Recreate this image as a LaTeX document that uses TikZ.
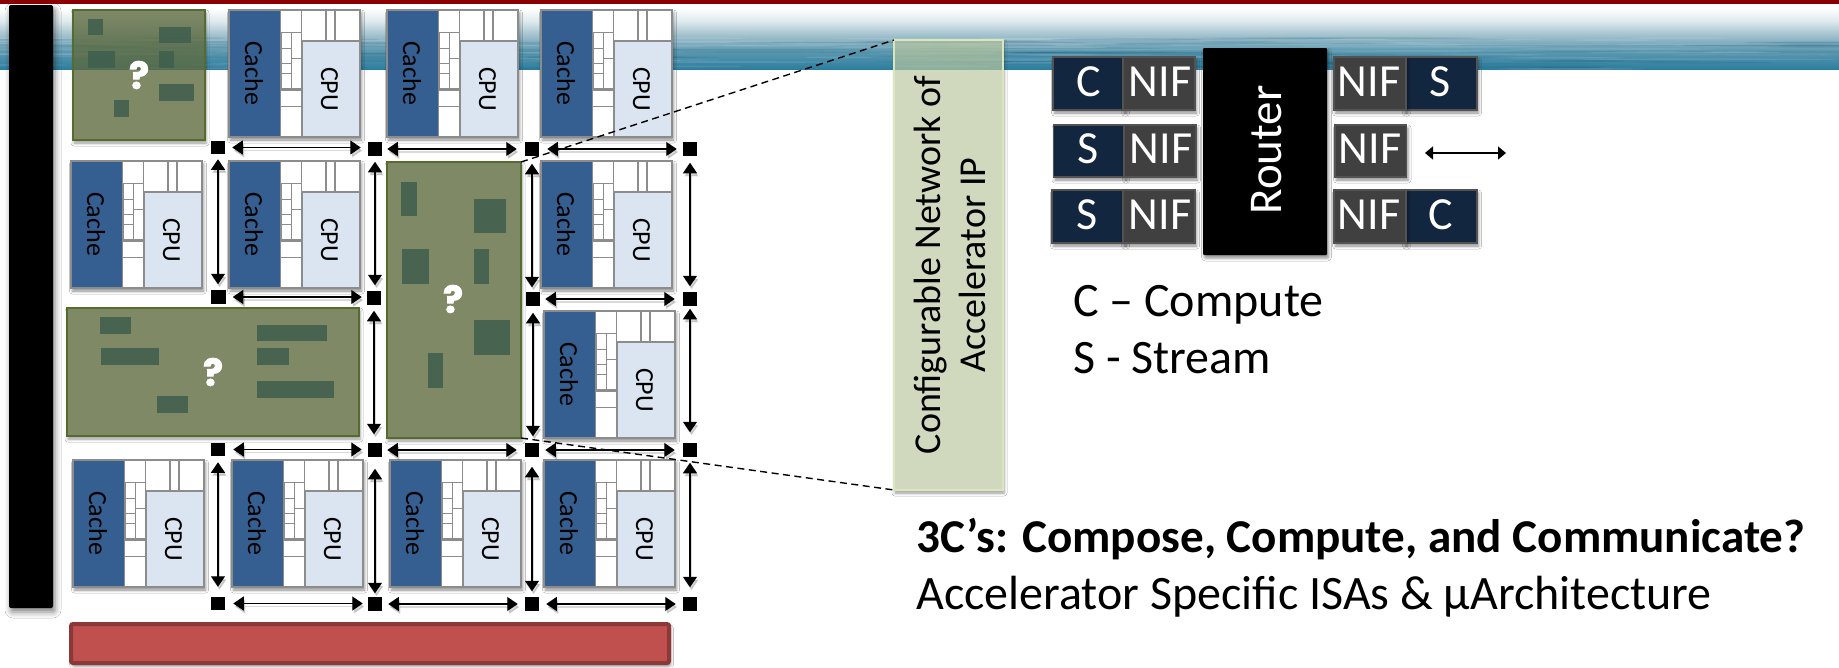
\documentclass[tikz,border=0pt]{standalone}
\usepackage{fontspec}
\setmainfont{Carlito}
\newfontfamily\qfont[BoldFeatures={FakeBold=2.5}]{Poppins}
\usetikzlibrary{arrows.meta,shadows.blur,calc}
\definecolor{hdrred}{HTML}{8B0000}
\definecolor{cacheblue}{HTML}{355E91}
\definecolor{cpublue}{HTML}{DBE5F1}
\definecolor{tilegray}{HTML}{8C8C8C}
\definecolor{accfill}{HTML}{5D6A3E}
\definecolor{accline}{HTML}{566B2E}
\definecolor{blockc}{HTML}{3F5E4E}
\definecolor{panelfill}{HTML}{BAC79E}
\definecolor{panelline}{HTML}{DCE6BE}
\definecolor{navy}{HTML}{12263F}
\definecolor{nifgray}{HTML}{404040}
\definecolor{barred}{HTML}{C0504D}
\definecolor{barline}{HTML}{8C3836}
\definecolor{oc6}{HTML}{116A90}
\definecolor{oc5}{HTML}{2E7FA0}
\definecolor{oc4}{HTML}{5F9AB1}
\definecolor{oc3}{HTML}{A3C2CE}
\definecolor{oc2}{HTML}{DCE8EC}
\pgfdeclareverticalshading{oceanb}{65bp}{
 color(0bp)=(oc6);
 color(8bp)=(oc5);
 color(22bp)=(oc4);
 color(34bp)=(oc3);
 color(44bp)=(oc2);
 color(54bp)=(white);
 color(65bp)=(white)}
\tikzset{
 softsh/.style={blur shadow={shadow xshift=1.5pt,shadow yshift=-3pt,shadow blur radius=3pt,shadow opacity=45}},
 softlight/.style={blur shadow={shadow xshift=1pt,shadow yshift=-3pt,shadow blur radius=3pt,shadow opacity=40}},
 boxn/.style={anchor=north west,inner sep=0pt,outer sep=0pt,rectangle},
 tileframe/.style={draw=tilegray,line width=1.8pt,fill=white,softsh},
 tcell/.style={draw=tilegray,line width=1.3pt,fill=white},
 cachefill/.style={draw=tilegray,line width=1.8pt,fill=cacheblue},
 cpufill/.style={draw=tilegray,line width=1.8pt,fill=cpublue},
 tiletext/.style={font=\fontsize{26}{26}\selectfont,text=black,rotate=-90,inner sep=0pt},
 accel/.style={draw=accline,line width=1.5pt,fill=accfill,fill opacity=.79,text opacity=1},
 darkb/.style={fill=blockc,fill opacity=.85},
 qmark/.style={font=\qfont\bfseries\fontsize{37}{37}\selectfont,text=white,inner sep=0pt},
 sq/.style={fill=black,rectangle,inner sep=0pt,outer sep=0pt,minimum width=14.5pt,minimum height=13.5pt},
 biarrow/.style={line width=1.3pt,black,{Triangle[length=10.5pt,width=14pt]}-{Triangle[length=10.5pt,width=14pt]}},
 biarrowsh/.style={line width=1.3pt,black,opacity=.15,{Triangle[length=10.5pt,width=14pt]}-{Triangle[length=10.5pt,width=14pt]},transform canvas={shift={(1.5pt,-3pt)}}},
 whitet/.style={font=\fontsize{46}{46}\selectfont,text=white,inner sep=0pt},
 navybox/.style={fill=navy,draw=nifgray!90,line width=1.3pt,softsh},
 nifbox/.style={fill=nifgray,draw=nifgray!90!white,line width=1.3pt,softsh},
 bigt/.style={font=\fontsize{48}{48}\selectfont,anchor=base west,inner sep=0pt,text=black},
 dashconn/.style={dashed,dash pattern=on 7pt off 4.5pt,line width=1.4pt,black},
}
% #1 style, #2 name, #3 x1, #4 y1, #5 x2, #6 y2
\newcommand\boxat[6]{\node[boxn,#1,minimum width={(#5-#3)*1pt},minimum height={(#6-#4)*1pt}] (#2) at (#3,#4) {};}
% a shadow that shows only outside the given rectangle, so that translucent fills stay clean
\newcommand\outshadow[4]{\begin{scope}
 \clip (0,0) -- (1839,0) -- (1839,667) -- (0,667) -- cycle (#1,#2) -- (#1,#4) -- (#3,#4) -- (#3,#2) -- cycle;
 \path[softlight] (#1,#2) rectangle (#3,#4);
 \end{scope}}
\newcommand\tile[3]{%
 \begin{scope}[shift={(#2,#3)}]
 \boxat{tileframe}{#1}{0}{0}{131}{127}
 \boxat{cachefill}{#1c}{0}{0}{51.5}{127}
 \boxat{cpufill}{#1p}{73}{31}{131}{127}
 \draw[tilegray,line width=1.5pt] (72.5,0) -- (72.5,31) (97,0) -- (97,31) (106,0) -- (106,31) (52,22.5) -- (72.5,22.5) (52,80) -- (73,80) (52,96.5) -- (73,96.5);
 \draw[tcell] (52.3,22.5) rectangle (62.3,38.4) (52.3,38.4) rectangle (62.3,53.8) (52.3,53.8) rectangle (62.3,63.4) (52.3,63.4) rectangle (62.3,79) (62.3,22.5) rectangle (72.3,48.5) (62.3,48.5) rectangle (72.3,79);
 \node[tiletext] at (25,63) {Cache};
 \node[tiletext] at (100.5,79) {CPU};
 \end{scope}}
\newcommand\dk[4]{\fill[darkb] (#1,#2) rectangle (#3,#4);}
\newcommand\harr[4]{%
 \draw[biarrowsh,shorten <=#3pt,shorten >=#4pt] (#1.east) -- (#1.east -| #2.west);
 \draw[biarrow,shorten <=#3pt,shorten >=#4pt] (#1.east) -- (#1.east -| #2.west);}
\newcommand\varr[4]{%
 \draw[biarrowsh,shorten <=#3pt,shorten >=#4pt] (#1.south) -- (#1.south |- #2.north);
 \draw[biarrow,shorten <=#3pt,shorten >=#4pt] (#1.south) -- (#1.south |- #2.north);}
\begin{document}
\begin{tikzpicture}[x=1pt,y=-1pt]
\useasboundingbox (0,0) rectangle (1839,667);
\fill[white] (0,0) rectangle (1839,667);
% header band
\begin{scope}
 \clip (0,4) rectangle (1839,69);
 \shade[shading=oceanb] (0,4) rectangle (1839,69);
 \pgfmathsetseed{11}
 \foreach \i in {1,...,170}{
  \pgfmathsetmacro\xa{rnd*1839}
  \pgfmathsetmacro\ya{38+rnd*31}
  \pgfmathsetmacro\wa{30+rnd*110}
  \pgfmathsetmacro\pick{rnd}
  \ifdim\pick pt<.4pt
   \fill[white,opacity=.10] (\xa,\ya) ellipse ({\wa*1pt} and 0.9pt);
  \else
   \fill[oc6!70!black,opacity=.12] (\xa,\ya) ellipse ({\wa*1pt} and 0.9pt);
  \fi
 }
\end{scope}
\fill[hdrred] (0,0) rectangle (1839,4);
% side and bottom bars
\node[boxn,fill=black,rounded corners=2pt,minimum width=44pt,minimum height=603pt,blur shadow={shadow xshift=2pt,shadow yshift=-4pt,shadow blur radius=6pt,shadow opacity=50}] (sidebar) at (9,5) {};
\boxat{fill=barred,draw=barline,line width=4pt,rounded corners=2pt,softsh}{redbar}{71}{624}{669}{663}
% accelerators
\outshadow{73}{10}{205}{140}
\boxat{accel}{accA}{73}{10}{205}{140}
\dk{88}{19}{103}{35}\dk{159}{27}{191}{43}\dk{88}{51}{115}{68}\dk{159}{51}{174}{68}\dk{159}{84}{194}{101}\dk{114}{100}{129}{117}
\node[qmark] (qA) at (139,75) {?};
\outshadow{387}{162}{521}{438}
\boxat{accel}{accB}{387}{162}{521}{438}
\dk{401}{182}{417}{216}\dk{474}{199}{506}{233}\dk{402}{249}{429}{284}\dk{474}{249}{489}{284}\dk{474}{320}{510}{355}\dk{428}{353}{443}{388}
\node[qmark] (qB) at (453,299) {?};
\outshadow{67}{308}{359}{436}
\boxat{accel}{accC}{67}{308}{359}{436}
\dk{100}{317}{131}{334}\dk{101}{348}{159}{365}\dk{257}{325}{327}{341}\dk{257}{348}{289}{365}\dk{257}{381}{334}{398}\dk{157}{396}{188}{413}
\node[qmark] (qC) at (213,372) {?};
% tiles
\tile{t01}{229}{10}\tile{t02}{387}{10}\tile{t03}{541}{10}
\tile{t10}{71}{161}\tile{t11}{229}{161}\tile{t13}{541}{161}
\tile{t23}{544}{311}
\tile{t30}{73}{460}\tile{t31}{232}{460}\tile{t32}{390}{460}\tile{t33}{544}{460}
% router squares
\foreach \n/\x/\y in {r00/218/147.5,r01/375/149,r02/532/149,r03/690/149,
 r10/218.5/297,r11/374/298,r12/533/299,r13/690/299,
 r20/218/449.5,r21/375/450,r22/532/450,r23/690/450,
 r30/218/603.5,r31/375/604,r32/532/604,r33/690/604}
 \node[sq] (\n) at (\x,\y) {};
% horizontal links
\harr{r00}{r01}{7}{7}\harr{r01}{r02}{5}{8}\harr{r02}{r03}{8}{6}
\harr{r10}{r11}{7}{5}\harr{r12}{r13}{5}{8}
\harr{r20}{r21}{8}{6}\harr{r21}{r22}{5}{8}\harr{r22}{r23}{6}{8}
\harr{r30}{r31}{8}{5}\harr{r31}{r32}{6}{7}\harr{r32}{r33}{7}{7}
% vertical links
\varr{r00}{r10}{5}{6}\varr{r01}{r11}{6}{6}\varr{r02}{r12}{8}{5}\varr{r03}{r13}{7}{6}
\varr{r11}{r21}{6}{9}\varr{r12}{r22}{7}{7}\varr{r13}{r23}{3}{11}
\varr{r20}{r30}{6}{10}\varr{r21}{r31}{12}{4}\varr{r22}{r32}{10}{6}\varr{r23}{r33}{6}{10}
% panel
\outshadow{894}{40}{1003}{490}
\node[boxn,draw=panelline,line width=1.5pt,fill=panelfill,fill opacity=.68,text opacity=1,minimum width=109pt,minimum height=450pt] (panel) at (894,40) {};
\node[rotate=90,align=center,font=\fontsize{38}{45}\selectfont,inner sep=0pt] (paneltext) at (950,265) {Configurable Network of\\Accelerator IP};
\draw[dashconn] (accB.north east) -- (panel.north west);
\draw[dashconn] (accB.south east) -- (panel.south west);
% router block
\boxat{navybox}{lc}{1053}{57}{1125}{110}
\boxat{nifbox}{ln1}{1123}{57}{1195}{110}
\boxat{navybox}{ls1}{1053.5}{125}{1125}{177}
\boxat{nifbox}{ln2}{1124}{125}{1196}{177}
\boxat{navybox}{ls2}{1052}{190}{1125}{243}
\boxat{nifbox}{ln3}{1123}{190}{1195}{243}
\boxat{fill=black,rounded corners=1pt,softsh}{router}{1203}{48}{1327}{255}
\boxat{navybox}{rs}{1404}{57}{1477}{110}
\boxat{nifbox}{rn1}{1334}{57}{1406}{110}
\boxat{nifbox}{rn2}{1335}{125}{1406.5}{177}
\boxat{navybox}{rc}{1404}{190}{1477}{243}
\boxat{nifbox}{rn3}{1334}{190}{1406}{243}
\foreach \n/\t/\x/\y in {tc/C/1089/82,ts1/S/1088/149,ts2/S/1087/215,tn1/NIF/1160/82,tn2/NIF/1161/149,tn3/NIF/1160/215,tr1/NIF/1369/82,tr2/NIF/1370/149,tr3/NIF/1369/215,ts3/S/1440/82,tc3/C/1441/215}
 \node[whitet] (\n) at (\x,\y) {\t};
\node[whitet,rotate=90,font=\fontsize{47}{47}\selectfont] (rt) at (1267,150) {Router};
\coordinate (fa) at (1425,153);
\coordinate (fb) at (1506,153);
\draw[line width=1.3pt,black,{Triangle[length=8pt,width=13pt]}-{Triangle[length=8pt,width=13pt]}] (fa) -- (fb);
% texts
\node[bigt] (leg1) at (1073,316) {C – Compute};
\node[bigt] (leg2) at (1073,373) {S - Stream};
\node[bigt,font=\bfseries\fontsize{47.1}{47.1}\selectfont] (hd1) at (916.5,552) {3C’s: Compose, Compute, and Communicate?};
\node[bigt] (hd2) at (916,609) {Accelerator Specific ISAs \& µArchitecture};
\end{tikzpicture}
\end{document}
